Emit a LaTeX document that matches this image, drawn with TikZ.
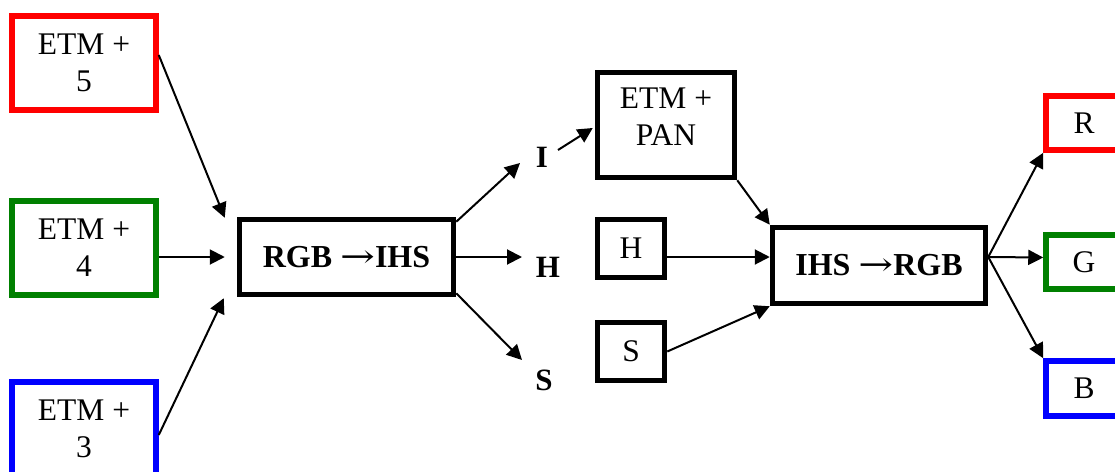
\documentclass[tikz,border=0pt]{standalone}
\usepackage{fontspec}
\setmainfont{Liberation Serif}
\newfontfamily\arrfont{DejaVu Serif}
\usetikzlibrary{arrows.meta,calc}
\definecolor{cred}{RGB}{255,0,0}
\definecolor{cgreen}{RGB}{0,128,0}
\definecolor{cblue}{RGB}{0,0,255}
\newcommand{\rarr}{{\arrfont\mdseries\scalebox{1.3}[1]{→}}}
\begin{document}
\begin{tikzpicture}[x=1pt,y=-1pt,
  box/.style={draw, line width=5.5pt, inner sep=0pt, align=center, font=\fontsize{31.5}{37}\selectfont},
  bbox/.style={box, font=\fontsize{32}{37}\selectfont\bfseries},
  txt/.style={inner sep=0pt, align=center, font=\fontsize{31.5}{37}\selectfont},
  lbl/.style={inner sep=0pt, font=\fontsize{31}{36}\selectfont\bfseries},
  conn/.style={line width=2pt, -{Triangle[length=15pt,width=15pt]}}
]
\clip (0,0) rectangle (1115,471);
\useasboundingbox (0,0) rectangle (1115,471);
\fill[white] (0,0) rectangle (1115,471);

% input bands
\node[box, draw=cred,   minimum width=144pt, minimum height=94pt] (e5) at (84,63)  {ETM +\\5};
\node[box, draw=cgreen, minimum width=144pt, minimum height=94pt] (e4) at (84,248) {ETM +\\4};
\node[box, draw=cblue,  minimum width=144pt, minimum height=94pt] (e3) at (84,429) {ETM +\\3};

% forward transform
\node[bbox, minimum width=214pt, minimum height=75pt] (rgb) at (346.5,257) {RGB \rarr IHS};

% components
\node[lbl] (I) at (542,157) {I};
\node[lbl] (H) at (548,267) {H};
\node[lbl] (S) at (544,380) {S};

% replaced intensity and kept components
\node[box, minimum width=137pt, minimum height=105pt] (pan) at (666,125) {};
\node[txt] (pantext) at (666,117) {ETM +\\PAN};
\node[box, minimum width=67pt, minimum height=58pt] (hb) at (631,248.5) {H};
\node[box, minimum width=67pt, minimum height=58pt] (sb) at (631,351.5) {S};

% inverse transform
\node[bbox, minimum width=213pt, minimum height=76pt] (ihs) at (879,265.5) {IHS \rarr RGB};

% outputs
\node[box, draw=cred,   minimum width=76pt, minimum height=54pt] (R) at (1084,123)   {R};
\node[box, draw=cgreen, minimum width=76pt, minimum height=54pt] (G) at (1084,262)   {G};
\node[box, draw=cblue,  minimum width=76pt, minimum height=55pt] (B) at (1084,388.5) {B};

% connectors
\draw[conn] ($(e5.east)+(0,-8)$) -- ($(rgb.north west)+(-12,1)$);
\draw[conn] (e4.east |- rgb.west) -- ($(rgb.west)+(-12,0)$);
\draw[conn] ($(e3.east)+(0,6)$) -- ($(rgb.south west)+(-13,1)$);

\draw[conn] ($(rgb.north east)+(0,5)$) -- ($(I)+(-22,6)$);
\draw[conn] (rgb.east) -- ($(H)+(-26,-10)$);
\draw[conn] ($(rgb.south east)+(0,-4)$) -- ($(S)+(-22,-20)$);

\draw[conn] ($(I)+(16,-7)$) -- ($(pan.west)+(-2,3)$);
\draw[conn] (pan.south east) -- (ihs.north west);
\draw[conn] ($(hb.east)+(0,8.5)$) -- ($(ihs.west)+(0,-8.5)$);
\draw[conn] (sb.east) -- (ihs.south west);

\draw[conn] ($(ihs.east)+(0,-8.5)$) -- (R.south west);
\draw[conn] ($(ihs.east)+(0,-8.5)$) -- ($(G.west)+(0,-4.5)$);
\draw[conn] ($(ihs.east)+(0,-8.5)$) -- (B.north west);
\end{tikzpicture}
\end{document}
